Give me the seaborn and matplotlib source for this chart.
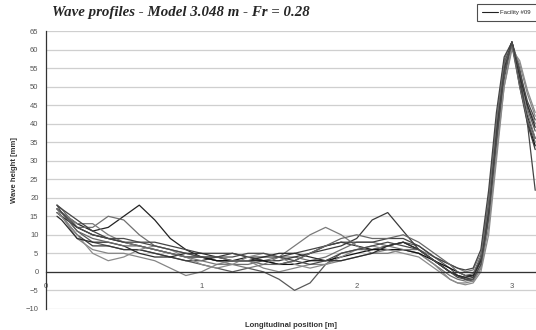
import numpy as np
import pandas as pd
import matplotlib
matplotlib.use("Agg")
import matplotlib.pyplot as plt
from matplotlib.lines import Line2D
from matplotlib.ticker import MultipleLocator
import seaborn as sns

# Longitudinal stations [m]
x_pos = [0.07, 0.1, 0.2, 0.3, 0.4, 0.5, 0.6, 0.7, 0.8, 0.9, 1.0, 1.1, 1.2, 1.3,
         1.4, 1.5, 1.6, 1.7, 1.8, 1.9, 2.0, 2.1, 2.2, 2.3, 2.4, 2.5, 2.6, 2.65,
         2.7, 2.75, 2.8, 2.85, 2.9, 2.95, 3.0, 3.05, 3.1, 3.15]

# Measured wave heights [mm], one list per run
run_01 = [17, 16, 13, 11, 12, 15, 18, 14, 9, 6, 4, 3, 3, 4, 3, 2, 3, 5, 7, 8, 7, 6, 7, 8, 6, 3, 0, -1, -1.5, -1, 4, 18, 38, 55, 61, 52, 42, 36]
run_02 = [18, 17, 12, 12, 15, 14, 10, 7, 6, 5, 4, 3, 2, 2, 3, 4, 4, 3, 4, 6, 8, 8, 7, 6, 5, 2, -1, -2, -2.5, -2, 2, 15, 35, 53, 62, 54, 45, 40]
run_03 = [17, 16, 11, 8, 7, 6, 6, 5, 4, 3, 2, 1, 0, 1, 0, -2, -5, -3, 2, 5, 6, 6, 7, 8, 7, 4, 1, -1, -2, -2.5, 1, 14, 34, 52, 62, 55, 44, 38]
run_04 = [16, 15, 10, 7, 7, 6, 6, 5, 4, 3, 3, 4, 5, 4, 3, 3, 4, 5, 6, 7, 9, 14, 16, 11, 6, 3, 0, -1, -2, -1.5, 3, 17, 38, 56, 62, 50, 40, 33]
run_05 = [17, 15, 9, 6, 5, 5, 4, 3, 1, -1, 0, 2, 3, 3, 1, 0, 1, 2, 2, 3, 4, 5, 6, 6, 5, 2, -2, -3, -3, -2.5, 1, 12, 32, 50, 61, 56, 48, 42]
run_06 = [16, 15, 12, 10, 9, 8, 7, 6, 5, 4, 4, 3, 3, 3, 3, 2, 2, 3, 3, 4, 5, 6, 6, 6, 5, 3, 1, 0, -1, -1, 4, 19, 40, 57, 62, 51, 41, 34]
run_07 = [17, 16, 13, 13, 10, 8, 7, 6, 5, 4, 3, 2, 2, 1, 2, 4, 7, 10, 12, 10, 7, 5, 5, 6, 6, 4, 2, 1, 0, 0.5, 5, 20, 41, 57, 62, 52, 43, 36]
run_08 = [18, 17, 14, 11, 9, 8, 8, 8, 7, 6, 5, 5, 5, 4, 4, 4, 5, 6, 7, 8, 8, 8, 9, 9, 7, 4, 2, 1, 0.5, 1, 6, 22, 43, 58, 62, 53, 40, 22]
run_09 = [16, 15, 10, 5, 3, 4, 6, 7, 6, 4, 2, 1, 2, 4, 5, 4, 2, 1, 2, 4, 6, 7, 6, 5, 4, 1, -2, -3, -3.5, -3, 0, 10, 30, 50, 60, 57, 49, 43]
run_10 = [15, 14, 9, 8, 8, 7, 5, 4, 4, 5, 5, 4, 3, 3, 4, 5, 5, 4, 3, 3, 4, 5, 7, 8, 6, 3, 0, -1, -1.5, -1, 3, 16, 37, 55, 62, 53, 45, 39]
run_11 = [17, 16, 11, 9, 8, 7, 7, 6, 5, 4, 4, 4, 3, 3, 2, 2, 3, 5, 7, 9, 10, 9, 9, 10, 8, 5, 2, 0, -1, -0.5, 4, 18, 40, 56, 61, 50, 41, 35]
run_12 = [18, 16, 12, 10, 9, 9, 8, 7, 6, 5, 4, 4, 4, 5, 5, 4, 3, 2, 3, 5, 6, 7, 8, 7, 6, 3, 0, -1.5, -2, -2, 2, 15, 36, 54, 62, 54, 46, 41]

runs = {"01": run_01, "02": run_02, "03": run_03, "04": run_04, "05": run_05,
        "06": run_06, "07": run_07, "08": run_08, "09": run_09, "10": run_10,
        "11": run_11, "12": run_12}

df = pd.concat(
    [pd.DataFrame({"x": x_pos, "h": vals, "run": name}) for name, vals in runs.items()],
    ignore_index=True,
)

sns.set_style("white")
plt.rcParams["font.family"] = ["Liberation Sans", "DejaVu Sans"]

fig = plt.figure(figsize=(5.36, 3.30), dpi=100)
ax = fig.add_axes([0.086, 0.064, 0.914, 0.842])

greys = ["#222222", "#707070", "#585858", "#3a3a3a", "#858585", "#111111",
         "#7a7a7a", "#444444", "#8c8c8c", "#2c2c2c", "#686868", "#4a4a4a"]
sns.lineplot(data=df, x="x", y="h", hue="run", palette=greys, estimator=None,
             sort=False, linewidth=0.9, legend=False, ax=ax)

ax.set_xlim(0, 3.155)
ax.set_ylim(-10, 65)

ax.yaxis.set_major_locator(MultipleLocator(5))
ax.yaxis.set_minor_locator(MultipleLocator(1))
ax.xaxis.set_major_locator(MultipleLocator(1))
ax.xaxis.set_minor_locator(MultipleLocator(0.1))
ax.grid(axis="y", which="major", color="#cfcfcf", linewidth=0.9)
ax.set_axisbelow(True)

for side in ("top", "right"):
    ax.spines[side].set_visible(False)
ax.spines["left"].set_color("#333333")
ax.spines["left"].set_linewidth(0.9)
ax.spines["bottom"].set_position(("data", 0))
ax.spines["bottom"].set_color("#333333")
ax.spines["bottom"].set_linewidth(0.9)

ax.tick_params(axis="y", which="major", direction="inout", length=5, width=0.8,
               labelsize=5.5, labelcolor="#555555", color="#333333", pad=3)
ax.tick_params(axis="y", which="minor", direction="out", length=2, width=0.6,
               color="#333333")
ax.tick_params(axis="x", which="major", direction="inout", length=4, width=0.8,
               labelsize=5.5, labelcolor="#555555", color="#333333", pad=6)
ax.tick_params(axis="x", which="minor", direction="inout", length=2.5, width=0.6,
               color="#333333")

ax.set_xlabel("Longitudinal position [m]", fontsize=5.5, fontweight="bold",
              color="#333333")
ax.xaxis.set_label_coords(0.5, -0.047)
ax.set_ylabel("Wave height [mm]", fontsize=5.5, fontweight="bold",
              color="#333333")
ax.yaxis.set_label_coords(-0.057, 0.5)

fig.text(0.097, 0.962, "Wave profiles - Model 3.048 m - Fr = 0.28",
         family=["Liberation Serif", "DejaVu Serif"], fontstyle="italic",
         fontweight="bold", fontsize=10.7, va="center", ha="left")

handle = Line2D([], [], color="#222222", linewidth=0.8)
leg = fig.legend([handle], ["Facility #09"], loc="upper left",
                 bbox_to_anchor=(0.889, 0.988), fontsize=4.3, frameon=True,
                 fancybox=False, edgecolor="#222222", handlelength=2.6,
                 handletextpad=0.4, borderpad=1.0, borderaxespad=0)
leg.get_frame().set_linewidth(0.8)

fig.savefig("out.png", dpi=100)
